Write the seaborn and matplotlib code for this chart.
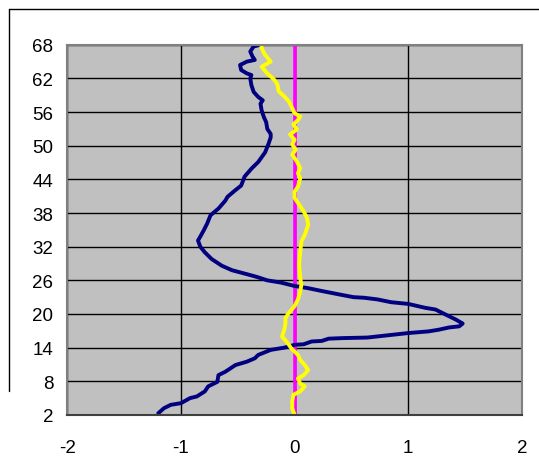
import numpy as np
import pandas as pd
import seaborn as sns
import matplotlib.pyplot as plt
from matplotlib.lines import Line2D

# curva azul (x, profundidade)
azul_x = [-1.20, -1.15, -1.09, -1.00, -0.92, -0.86, -0.79, -0.76, -0.68, -0.67, -0.61, -0.52,
          -0.42, -0.35, -0.32, -0.21, -0.09, 0.00, 0.08, 0.15, 0.24, 0.30, 0.42, 0.64, 0.82,
          1.00, 1.18, 1.27, 1.36, 1.45, 1.48, 1.42, 1.36, 1.24, 1.15, 1.00, 0.85, 0.73, 0.61,
          0.52, 0.39, 0.24, 0.12, 0.00, -0.12, -0.24, -0.33, -0.42, -0.55, -0.64, -0.73, -0.79,
          -0.83, -0.85, -0.83, -0.80, -0.77, -0.74, -0.67, -0.61, -0.59, -0.52, -0.47, -0.44,
          -0.38, -0.32, -0.26, -0.23, -0.21, -0.21, -0.24, -0.25, -0.27, -0.29, -0.30, -0.28,
          -0.32, -0.36, -0.38, -0.39, -0.38, -0.42, -0.47, -0.48, -0.42, -0.35, -0.37, -0.39,
          -0.36, -0.32, -0.30]
azul_y = [2.3, 3.2, 3.8, 4.1, 5.0, 5.3, 6.2, 7.1, 7.9, 9.1, 9.7, 10.9,
          11.5, 12.1, 12.7, 13.6, 14.0, 14.5, 14.6, 15.1, 15.2, 15.6, 15.7, 15.8, 16.2,
          16.6, 16.9, 17.2, 17.6, 17.8, 18.3, 19.0, 19.6, 20.8, 21.1, 21.8, 22.1, 22.6, 22.9,
          23.0, 23.5, 24.1, 24.6, 25.0, 25.6, 26.0, 26.6, 27.1, 27.8, 28.6, 29.8, 31.0,
          32.0, 33.1, 33.8, 34.9, 36.1, 37.6, 38.8, 40.2, 40.9, 42.1, 42.9, 44.5,
          45.9, 47.1, 48.8, 50.3, 51.5, 52.1, 53.0, 54.2, 55.1, 56.3, 57.5, 58.1,
          58.7, 59.6, 60.8, 62.0, 62.6, 62.9, 63.5, 64.4, 65.0, 65.3, 65.9, 66.8,
          67.7, 67.9, 68.0]

# curva amarela
amarelo_x = [0.00, -0.02, -0.02, -0.01, 0.05, 0.09, 0.05, 0.03, 0.08, 0.12, 0.09, 0.05, 0.03,
             0.00, -0.03, -0.06, -0.11, -0.09, -0.08, -0.08, -0.05, 0.00, 0.03, 0.05, 0.06,
             0.05, 0.04, 0.05, 0.06, 0.09, 0.12, 0.11, 0.08, 0.03, 0.00, 0.00, 0.03, 0.05,
             0.03, 0.05, 0.02, -0.02, 0.01, -0.02, 0.00, -0.04, 0.02, -0.01, 0.03, 0.05, 0.00,
             -0.02, -0.05, -0.09, -0.14, -0.15, -0.18, -0.24, -0.29, -0.21, -0.26, -0.29, -0.29]
amarelo_y = [2.0, 3.2, 4.4, 5.6, 6.2, 7.1, 7.6, 8.5, 9.1, 10.0, 10.9, 11.8, 12.7,
             13.3, 13.9, 14.8, 16.0, 17.2, 18.4, 19.3, 20.2, 21.4, 22.6, 24.0, 25.2,
             26.4, 28.8, 31.1, 32.9, 34.1, 35.9, 37.1, 38.3, 39.8, 40.7, 41.8, 42.7, 44.2,
             45.1, 46.0, 47.2, 48.4, 49.3, 50.2, 51.1, 52.0, 52.9, 53.8, 54.6, 55.2, 55.8,
             56.7, 57.9, 58.8, 59.7, 60.9, 61.8, 62.9, 64.1, 65.0, 66.2, 67.4, 68.0]

# linha de referência em zero
ref_x = [0, 0]
ref_y = [2, 68]

y_ticks = [2, 8, 14, 20, 26, 32, 38, 44, 50, 56, 62, 68]
x_ticks = [-2, -1, 0, 1, 2]

df_azul = pd.DataFrame({'x': azul_x, 'y': azul_y})
df_amarelo = pd.DataFrame({'x': amarelo_x, 'y': amarelo_y})
df_ref = pd.DataFrame({'x': ref_x, 'y': ref_y})

sns.set_style("white", {'axes.facecolor': '#C0C0C0'})
plt.rcParams['font.family'] = ['Liberation Sans', 'DejaVu Sans']

fig = plt.figure(figsize=(5.39, 4.77), dpi=100)
ax = fig.add_axes([0.125, 0.128, 0.843, 0.776])

ax.set_xlim(-2, 2)
ax.set_ylim(2, 68)
ax.set_xticks(x_ticks)
ax.set_yticks(y_ticks)
ax.set_xticklabels([str(v) for v in x_ticks], fontsize=13.5, color='black')
ax.set_yticklabels([str(v) for v in y_ticks], fontsize=13.5, color='black')
ax.grid(True, color='black', linewidth=1)
ax.set_axisbelow(True)

# estimator=None para não agregar pontos com o mesmo x
sns.lineplot(data=df_ref, x='x', y='y', sort=False, estimator=None,
             color='#FF00FF', linewidth=2.6, ax=ax)
sns.lineplot(data=df_azul, x='x', y='y', sort=False, estimator=None,
             color='#000080', linewidth=2.8, ax=ax)
sns.lineplot(data=df_amarelo, x='x', y='y', sort=False, estimator=None,
             color='#FFFF00', linewidth=2.8, ax=ax)

ax.set_xlabel('')
ax.set_ylabel('')
for lado in ['top', 'right', 'left']:
    ax.spines[lado].set_color('#808080')
    ax.spines[lado].set_linewidth(1.5)
ax.spines['bottom'].set_color('#404040')
ax.spines['bottom'].set_linewidth(1.5)

ax.tick_params(axis='x', direction='out', length=4, width=1, color='black', pad=13)
ax.tick_params(axis='y', length=0, pad=10)

# borda parcial da área do gráfico
fig.add_artist(Line2D([0.017, 1.0], [0.979, 0.979], color='black', linewidth=1))
fig.add_artist(Line2D([0.017, 0.017], [0.979, 0.178], color='black', linewidth=1))

plt.savefig('out.png', dpi=100)
